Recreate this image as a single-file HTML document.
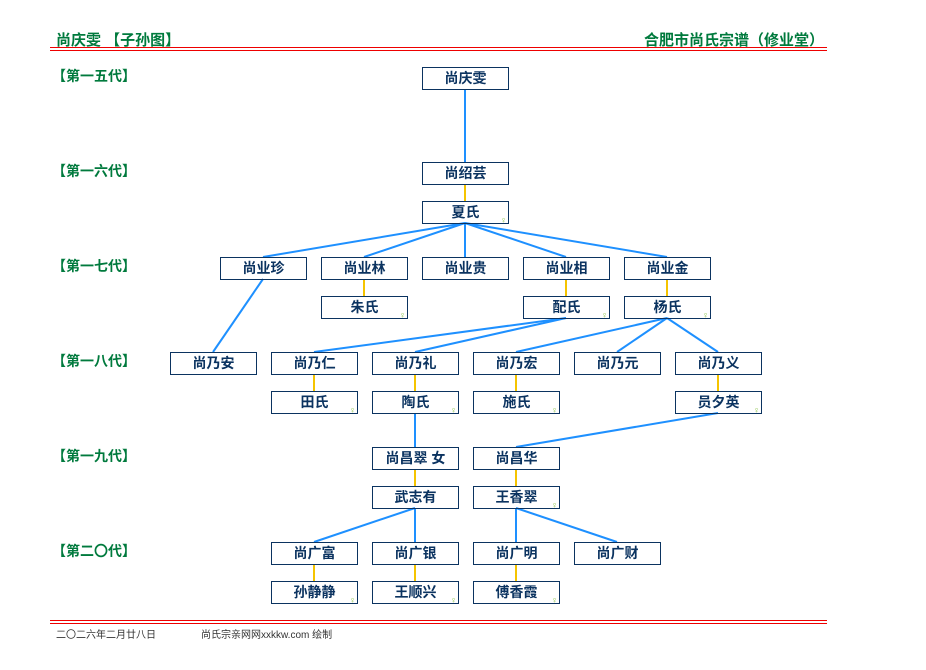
<!DOCTYPE html>
<html><head><meta charset="utf-8"><style>
body{margin:0;width:926px;height:670px;background:#fff;position:relative;overflow:hidden;font-family:"Liberation Sans","Noto Sans CJK SC",sans-serif}
.t{position:absolute;color:#007a3d;font-weight:bold;font-size:15px;white-space:nowrap}
.g{position:absolute;left:52px;color:#007a3d;font-weight:bold;font-size:14px}
.b{position:absolute;width:85px;height:21px;border:1px solid #0b3360;color:#0b3360;font-weight:bold;font-size:14px;text-align:center;line-height:21px;box-sizing:content-box}
.f:after{content:"♀";position:absolute;right:1px;bottom:-2px;font-size:9px;color:#8bc34a;font-weight:normal;line-height:10px}
.r{position:absolute;left:50px;width:777px;height:1px;background:#e00}
.ft{position:absolute;top:626px;font-size:10px;color:#333}
</style></head><body>
<div class="t" style="left:56px;top:29px">尚庆雯 【子孙图】</div>
<div class="t" style="right:102px;top:29px">合肥市尚氏宗谱（修业堂）</div>
<div class="r" style="top:47px"></div><div class="r" style="top:50px"></div>
<div class="r" style="top:620px"></div><div class="r" style="top:623px"></div>
<div class="ft" style="left:56px">二〇二六年二月廿八日</div>
<div class="ft" style="left:201px">尚氏宗亲网网xxkkw.com 绘制</div>
<div class="g" style="top:66px">【第一五代】</div>
<div class="g" style="top:161px">【第一六代】</div>
<div class="g" style="top:256px">【第一七代】</div>
<div class="g" style="top:351px">【第一八代】</div>
<div class="g" style="top:446px">【第一九代】</div>
<div class="g" style="top:541px">【第二〇代】</div>
<svg width="926" height="670" style="position:absolute;left:0;top:0">
<g stroke="#1e90ff" stroke-width="2" fill="none">
<line x1="465" y1="89" x2="465" y2="162"/>
<line x1="465" y1="223" x2="263" y2="257"/><line x1="465" y1="223" x2="364" y2="257"/><line x1="465" y1="223" x2="465" y2="257"/><line x1="465" y1="223" x2="566" y2="257"/><line x1="465" y1="223" x2="667" y2="257"/>
<line x1="263" y1="279" x2="213" y2="352"/>
<line x1="566" y1="318" x2="314" y2="352"/><line x1="566" y1="318" x2="415" y2="352"/>
<line x1="667" y1="318" x2="516" y2="352"/><line x1="667" y1="318" x2="617" y2="352"/><line x1="667" y1="318" x2="718" y2="352"/>
<line x1="415" y1="413" x2="415" y2="447"/>
<line x1="718" y1="413" x2="516" y2="447"/>
<line x1="415" y1="508" x2="314" y2="542"/><line x1="415" y1="508" x2="415" y2="542"/>
<line x1="516" y1="508" x2="516" y2="542"/><line x1="516" y1="508" x2="617" y2="542"/>
</g>
<g stroke="#f5c400" stroke-width="2">
<line x1="465" y1="184" x2="465" y2="201"/>
<line x1="364" y1="279" x2="364" y2="296"/><line x1="566" y1="279" x2="566" y2="296"/><line x1="667" y1="279" x2="667" y2="296"/>
<line x1="314" y1="374" x2="314" y2="391"/><line x1="415" y1="374" x2="415" y2="391"/><line x1="516" y1="374" x2="516" y2="391"/><line x1="718" y1="374" x2="718" y2="391"/>
<line x1="415" y1="469" x2="415" y2="486"/><line x1="516" y1="469" x2="516" y2="486"/>
<line x1="314" y1="564" x2="314" y2="581"/><line x1="415" y1="564" x2="415" y2="581"/><line x1="516" y1="564" x2="516" y2="581"/>
</g></svg>
<div class="b" style="left:422px;top:67px">尚庆雯</div>
<div class="b" style="left:422px;top:162px">尚绍芸</div>
<div class="b f" style="left:422px;top:201px">夏氏</div>
<div class="b" style="left:220px;top:257px">尚业珍</div>
<div class="b" style="left:321px;top:257px">尚业林</div>
<div class="b" style="left:422px;top:257px">尚业贵</div>
<div class="b" style="left:523px;top:257px">尚业相</div>
<div class="b" style="left:624px;top:257px">尚业金</div>
<div class="b f" style="left:321px;top:296px">朱氏</div>
<div class="b f" style="left:523px;top:296px">配氏</div>
<div class="b f" style="left:624px;top:296px">杨氏</div>
<div class="b" style="left:170px;top:352px">尚乃安</div>
<div class="b" style="left:271px;top:352px">尚乃仁</div>
<div class="b" style="left:372px;top:352px">尚乃礼</div>
<div class="b" style="left:473px;top:352px">尚乃宏</div>
<div class="b" style="left:574px;top:352px">尚乃元</div>
<div class="b" style="left:675px;top:352px">尚乃义</div>
<div class="b f" style="left:271px;top:391px">田氏</div>
<div class="b f" style="left:372px;top:391px">陶氏</div>
<div class="b f" style="left:473px;top:391px">施氏</div>
<div class="b f" style="left:675px;top:391px">员夕英</div>
<div class="b" style="left:372px;top:447px">尚昌翠 女</div>
<div class="b" style="left:473px;top:447px">尚昌华</div>
<div class="b" style="left:372px;top:486px">武志有</div>
<div class="b f" style="left:473px;top:486px">王香翠</div>
<div class="b" style="left:271px;top:542px">尚广富</div>
<div class="b" style="left:372px;top:542px">尚广银</div>
<div class="b" style="left:473px;top:542px">尚广明</div>
<div class="b" style="left:574px;top:542px">尚广财</div>
<div class="b f" style="left:271px;top:581px">孙静静</div>
<div class="b f" style="left:372px;top:581px">王顺兴</div>
<div class="b f" style="left:473px;top:581px">傅香霞</div>
</body></html>
